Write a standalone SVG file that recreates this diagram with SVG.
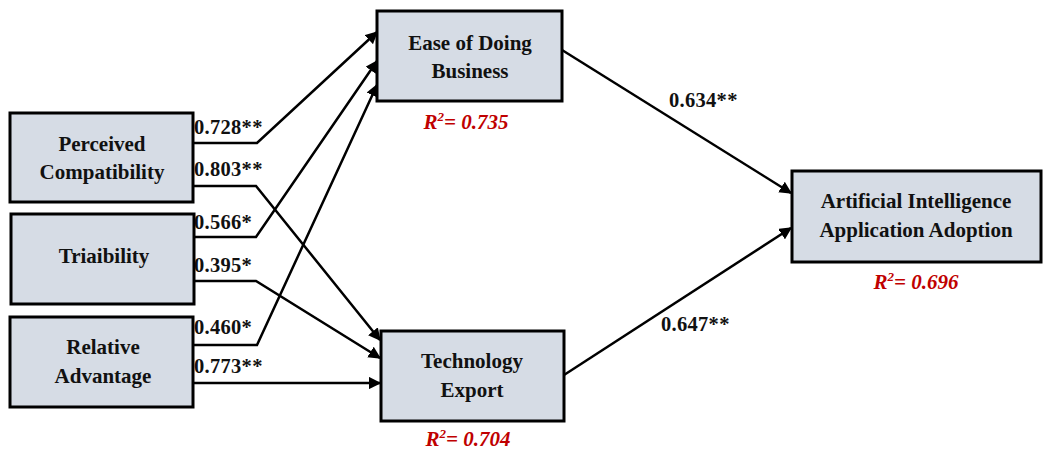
<svg xmlns="http://www.w3.org/2000/svg" width="1045" height="453" viewBox="0 0 1045 453">
<style>
.box{fill:#D6DCE5;stroke:#000;stroke-width:3}
.t{font-family:"Liberation Serif",serif;font-weight:bold;font-size:21px;fill:#111;text-anchor:middle}
.n{font-family:"Liberation Serif",serif;font-weight:bold;font-size:20.5px;fill:#111;letter-spacing:0.3px}
.r{font-family:"Liberation Serif",serif;font-weight:bold;font-style:italic;font-size:21px;fill:#C00000;text-anchor:middle}
.c{fill:none;stroke:#000;stroke-width:2.5;marker-end:url(#ah)}
</style>
<defs>
<marker id="ah" viewBox="0 0 10 10" refX="9" refY="5" markerWidth="5" markerHeight="5" orient="auto" markerUnits="strokeWidth">
<path d="M0,0 L10,5 L0,10 z" fill="#000"/>
</marker>
</defs>
<rect width="1045" height="453" fill="#fff"/>
<g id="connectors">
<polyline class="c" points="193,143 257,143 377,32"/>
<polyline class="c" points="193,186 256,186 380,340"/>
<polyline class="c" points="194,237 256,237 377,61"/>
<polyline class="c" points="194,281 256,281 380,358"/>
<polyline class="c" points="193,345 257,345 377,85"/>
<polyline class="c" points="193,383 380,383"/>
<polyline class="c" points="562,50 791,193"/>
<polyline class="c" points="564,375 791,228"/>
</g>
<g id="labels">
<text class="n" x="194" y="134">0.728**</text>
<text class="n" x="194" y="176">0.803**</text>
<text class="n" x="194" y="229">0.566*</text>
<text class="n" x="194" y="272">0.395*</text>
<text class="n" x="194" y="334">0.460*</text>
<text class="n" x="194" y="373">0.773**</text>
<text class="n" x="669" y="107">0.634**</text>
<text class="n" x="661" y="331">0.647**</text>
</g>
<g id="pc">
<rect class="box" x="10" y="113" width="183" height="89"/>
<text class="t" x="102" y="151">Perceived</text>
<text class="t" x="102" y="179">Compatibility</text>
</g>
<g id="tri">
<rect class="box" x="11" y="214" width="183" height="90"/>
<text class="t" x="104" y="263">Triaibility</text>
</g>
<g id="ra">
<rect class="box" x="10" y="317" width="183" height="90"/>
<text class="t" x="103" y="354">Relative</text>
<text class="t" x="103" y="383">Advantage</text>
</g>
<g id="ease">
<rect class="box" x="377" y="11" width="185" height="90"/>
<text class="t" x="470" y="50">Ease of Doing</text>
<text class="t" x="470" y="78">Business</text>
<text class="r" x="466" y="129">R<tspan font-size="13" dy="-8">2</tspan><tspan dy="8">= 0.735</tspan></text>
</g>
<g id="tech">
<rect class="box" x="381" y="331" width="183" height="90"/>
<text class="t" x="472" y="368">Technology</text>
<text class="t" x="472" y="397">Export</text>
<text class="r" x="468" y="446">R<tspan font-size="13" dy="-8">2</tspan><tspan dy="8">= 0.704</tspan></text>
</g>
<g id="ai">
<rect class="box" x="792" y="171" width="249" height="91"/>
<text class="t" x="916" y="208">Artificial Intelligence</text>
<text class="t" x="916" y="237">Application Adoption</text>
<text class="r" x="916" y="289">R<tspan font-size="13" dy="-8">2</tspan><tspan dy="8">= 0.696</tspan></text>
</g>
</svg>
